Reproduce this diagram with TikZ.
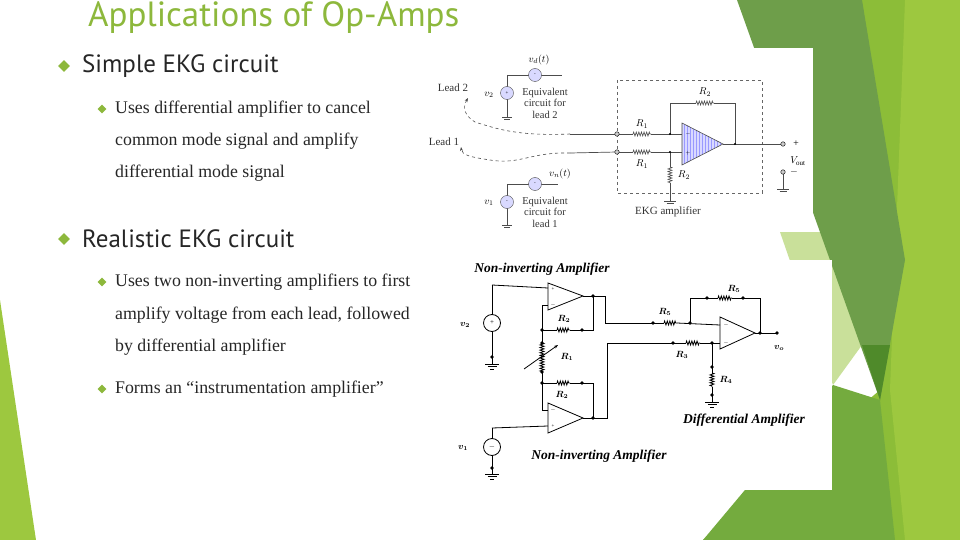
\documentclass[tikz,border=0pt]{standalone}
\usepackage{fontspec}
\usepackage{amsmath,bm}
\setmainfont{Liberation Serif}
\newfontfamily\tfont{PT Sans}
\usetikzlibrary{decorations.pathmorphing,patterns,arrows.meta,shapes.geometric}
\definecolor{tgreen}{HTML}{8DB83C}
\definecolor{dgreen}{HTML}{6E9E4A}
\definecolor{ddgreen}{HTML}{4F8A2A}
\definecolor{bgreen}{HTML}{8CBD38}
\definecolor{lgreen}{HTML}{9DC83F}
\definecolor{mgreen}{HTML}{74AB3E}
\definecolor{pgreen}{HTML}{C9E09A}
\definecolor{txt}{HTML}{262626}
\begin{document}
\begin{tikzpicture}[x=1pt,y=-1pt,
  res/.style={decorate,decoration={zigzag,segment length=2.6pt,amplitude=2pt}},
  w/.style={line width=0.7pt,black},
  dot/.style={circle,fill=black,inner sep=1.4pt},
  term/.style={circle,draw=black,fill=gray!40,inner sep=1.6pt},
  lab/.style={font=\fontsize{10}{10}\selectfont\itshape,inner sep=0pt},
  lab2/.style={font=\fontsize{11}{11}\selectfont,inner sep=0pt,text=black!80},
  bul/.style={diamond,fill=tgreen,inner sep=0pt,minimum size=#1},
  bt/.style={anchor=west,inner sep=0pt,text=txt},
  body/.style={font=\fontsize{17.8}{17.8}\selectfont},
  head/.style={font=\tfont\fontsize{25}{25}\selectfont},
  ttl/.style={inner sep=0pt,font=\fontsize{13.5}{13.5}\selectfont\bfseries\itshape}]
\useasboundingbox (0,0) rectangle (960,540);
\fill[white] (0,0) rectangle (960,540);
% background shapes
\fill[lgreen] (0,300) -- (36,540) -- (0,540) -- cycle;
\fill[bgreen] (862,0) -- (960,0) -- (960,540) -- (703,540) -- (880,390) -- cycle;
\fill[lgreen] (905,0) -- (960,0) -- (960,540) -- (905,540) -- (890,390) -- cycle;
\fill[pgreen] (780,232) -- (835,232) -- (862,345) -- (833,385) -- cycle;
\fill[mgreen] (703,540) -- (833,385) -- (880,400) -- (895,540) -- cycle;
\fill[dgreen] (737,0) -- (862,0) -- (905,260) -- (880,400) -- cycle;
\fill[ddgreen] (862,345) -- (890,345) -- (880,400) -- cycle;
% title
\node[anchor=base west,inner sep=0pt,text=tgreen,font=\tfont\fontsize{35}{35}\selectfont] (title) at (88,27) {Applications of Op-Amps};
% bullets
\node[bul=12pt] (b1) at (64,66) {};
\node[bt,head] (t1) at (82,66) {Simple EKG circuit};
\node[bul=9pt] (b2) at (102,109) {};
\node[bt,body] (t2) at (115,109) {Uses differential amplifier to cancel};
\node[bt,body] (t3) at (115,141) {common mode signal and amplify};
\node[bt,body] (t4) at (115,173) {differential mode signal};
\node[bul=12pt] (b3) at (64,239) {};
\node[bt,head] (t5) at (82,239) {Realistic EKG circuit};
\node[bul=9pt] (b4) at (102,282) {};
\node[bt,body] (t6) at (115,282) {Uses two non-inverting amplifiers to first};
\node[bt,body] (t7) at (115,315) {amplify voltage from each lead, followed};
\node[bt,body] (t8) at (115,347) {by differential amplifier};
\node[bul=9pt] (b5) at (102,389) {};
\node[bt,body] (t9) at (115,389) {Forms an “instrumentation amplifier”};
% ================= top picture
\fill[white] (420,48) rectangle (813,232);
\node[lab2] (l2) at (453,88) {Lead 2};
\node[lab2] (l1) at (444,142) {Lead 1};
\draw[dashed,black!70,line width=0.6pt,-{Stealth[length=4pt]}] (570,134) .. controls (520,136) and (500,130) .. (475,122) .. controls (465,116) and (462,108) .. (468,98);
\draw[dashed,black!70,line width=0.6pt,-{Stealth[length=4pt]}] (570,153) .. controls (530,152) and (520,165) .. (490,160) .. controls (470,157) and (462,155) .. (461,147);
\draw[w,black!70] (570,134) -- (617,134);
\draw[w,black!70] (570,153) -- (617,152);
% sources
\begin{scope}[black!70,line width=0.6pt]
\draw (507,75) -- (507,117) (507,75) -- (562,75);
\draw (502,117) -- (512,117) (504,119.5) -- (510,119.5);
\draw (507,184) -- (507,225) (507,184) -- (558,184);
\draw (502,225) -- (512,225) (504,227.5) -- (510,227.5);
\end{scope}
\node[circle,draw=black!70,fill=blue!15,minimum size=13pt,inner sep=0pt,font=\tiny] (v2s) at (507,93) {+};
\node[circle,draw=black!70,fill=blue!15,minimum size=13pt,inner sep=0pt,font=\tiny] (vds) at (535,75) {-};
\node[circle,draw=black!70,fill=blue!15,minimum size=13pt,inner sep=0pt,font=\tiny] (v1s) at (507,202) {-};
\node[circle,draw=black!70,fill=blue!15,minimum size=13pt,inner sep=0pt,font=\tiny] (vns) at (535,184) {-};
\node[lab] (v2l) at (489,95) {$v_2$};
\node[lab] (v1l) at (489,203) {$v_1$};
\node[lab] (vdl) at (539,60) {$v_d(t)$};
\node[lab] (vnl) at (560,174) {$v_n(t)$};
\node[lab2,align=center,font=\fontsize{10.5}{11.5}\selectfont] (eq2) at (545,103) {Equivalent\\circuit for\\lead 2};
\node[lab2,align=center,font=\fontsize{10.5}{11.5}\selectfont] (eq1) at (545,212) {Equivalent\\circuit for\\lead 1};
% dashed box
\draw[dashed,black!60,line width=0.5pt] (617,80) rectangle (762,193);
\node[lab2] (ekg) at (668,212) {EKG amplifier};
% amplifier
\fill[blue!15] (682,123) -- (723,144) -- (682,165) -- cycle;
\fill[pattern=vertical lines,pattern color=blue!40] (682,123) -- (723,144) -- (682,165) -- cycle;
\draw[black!70,line width=0.6pt] (682,123) -- (723,144) -- (682,165) -- cycle;
\node[font=\tiny,inner sep=0pt] at (688,134) {$-$};
\node[font=\tiny,inner sep=0pt] at (688,153) {$+$};
\begin{scope}[black!70,line width=0.6pt]
\draw (617,134) -- (633,134);
\draw[res] (633,134) -- (651,134);
\draw (651,134) -- (682,134);
\draw (617,152) -- (633,152);
\draw[res] (633,152) -- (651,152);
\draw (651,152) -- (682,152);
\draw (670,134) -- (670,103) -- (696,103);
\draw[res] (696,103) -- (714,103);
\draw (714,103) -- (735,103) -- (735,144);
\draw (723,144) -- (783,144);
\draw (670,152) -- (670,167);
\draw[res] (670,167) -- (670,183);
\draw (670,183) -- (670,201) (664,201) -- (676,201) (666.5,203.5) -- (673.5,203.5);
\draw (783,172) -- (783,189) (777,189) -- (789,189) (779.5,191.5) -- (786.5,191.5);
\end{scope}
\node[dot,inner sep=0.8pt] at (670,134) {};
\node[dot,inner sep=0.8pt] at (670,152) {};
\node[dot,inner sep=0.8pt] at (735,144) {};
\node[term] (ta) at (617,134) {};
\node[term] (tb) at (617,152) {};
\node[term] (to) at (783,144) {};
\node[term] (tm) at (783,172) {};
\node[lab] at (642,124) {$R_1$};
\node[lab] at (642,164) {$R_1$};
\node[lab] at (705,92) {$R_2$};
\node[lab] at (684,175) {$R_2$};
\node[lab] at (796,144) {+};
\node[lab] at (798,161) {$V_{\rm out}$};
\node[lab] at (794,172) {$-$};
% ================= bottom picture
\fill[white] (447,260) rectangle (832,490);
\node[ttl] (na1) at (542,269) {Non-inverting Amplifier};
\node[ttl] (na2) at (599,456) {Non-inverting Amplifier};
\node[ttl] (da) at (744,420) {Differential Amplifier};
\begin{scope}[line width=0.8pt]
% opamps
\draw (548,283) -- (583,296) -- (548,310) -- cycle;
\draw (548,403) -- (583,418) -- (548,433) -- cycle;
\draw (720,317) -- (755,333) -- (720,349) -- cycle;
% v2
\draw (492,285) -- (548,288);
\draw (492,285) -- (492,315) (492,331) -- (492,364);
\draw (485,364) -- (499,364) (487.5,366.5) -- (496.5,366.5) (490,369) -- (494,369);
% v1
\draw (492,428) -- (492,439) (492,455) -- (492,474);
\draw (492,428) -- (548,426);
\draw (485,474) -- (499,474) (487.5,476.5) -- (496.5,476.5) (490,479) -- (494,479);
% op1 feedback
\draw (548,305) -- (542,305) -- (542,343);
\draw (542,330) -- (557,330);
\draw[res] (557,330) -- (570,330);
\draw (570,330) -- (593,330) -- (593,296) -- (583,296);
\draw[res] (542,343) -- (542,372);
\draw (542,372) -- (542,410) -- (548,410);
\draw[-{Stealth[length=4pt]}] (524,369) -- (558,345);
\draw (542,383) -- (557,383);
\draw[res] (557,383) -- (570,383);
\draw (570,383) -- (593,383) -- (593,418) -- (583,418);
% to differential
\draw (593,296) -- (605,296) -- (605,323) -- (664,323);
\draw[res] (664,323) -- (677,323);
\draw (677,323) -- (720,325);
\draw (593,418) -- (607,418) -- (607,343) -- (686,343);
\draw[res] (686,343) -- (700,343);
\draw (700,343) -- (720,343);
\draw (690,323) -- (690,298) -- (718,298);
\draw[res] (718,298) -- (732,298);
\draw (732,298) -- (760,298) -- (760,333) -- (755,333);
\draw (760,333) -- (777,333);
\draw (712,343) -- (712,373);
\draw[res] (712,373) -- (712,387);
\draw (712,387) -- (712,402);
\draw (705,402) -- (719,402) (707.5,404.5) -- (716.5,404.5) (710,407) -- (714,407);
\end{scope}
\node[circle,draw,fill=white,line width=0.8pt,minimum size=17pt,inner sep=0pt,font=\scriptsize] (v2b) at (492,323) {+};
\node[circle,draw,fill=white,line width=0.8pt,minimum size=17pt,inner sep=0pt,font=\scriptsize] (v1b) at (492,447) {$-$};
\foreach \p in {(492,357),(492,468),(542,330),(582,330),(593,296),(542,343),(542,372),(542,383),(582,383),(593,418),(653,323),(690,323),(673,343),(712,343),(707,298),(743,298),(760,333),(777,333),(712,367),(712,395)} \node[dot] at \p {};
\begin{scope}[every node/.style={inner sep=0pt,font=\fontsize{9}{9}\selectfont}]
\node at (465,325) {$\bm{v_2}$};
\node at (463,448) {$\bm{v_1}$};
\node at (564,319) {$\bm{R_2}$};
\node at (567,357) {$\bm{R_1}$};
\node at (562,395) {$\bm{R_2}$};
\node at (665,312) {$\bm{R_5}$};
\node at (682,355) {$\bm{R_3}$};
\node at (734,289) {$\bm{R_5}$};
\node at (726,380) {$\bm{R_4}$};
\node at (779,348) {$\bm{v_o}$};
\node at (553,289) {\tiny +};
\node at (553,305) {\tiny $-$};
\node at (553,410) {\tiny $-$};
\node at (553,426) {\tiny +};
\node at (726,325) {\tiny $-$};
\node at (726,343) {\tiny $-$};
\end{scope}
\end{tikzpicture}
\end{document}
